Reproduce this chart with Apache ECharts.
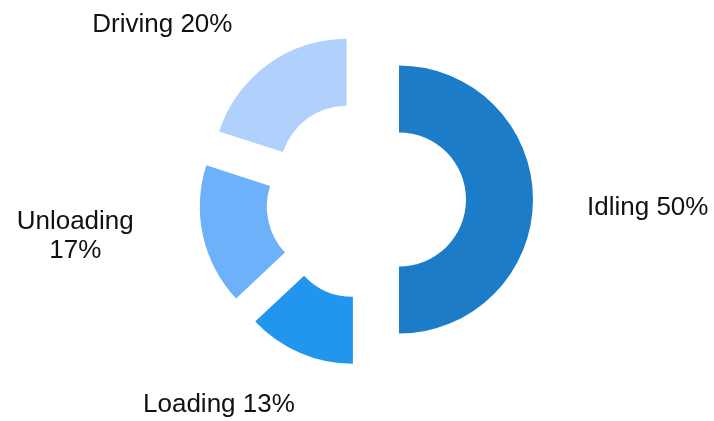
<!DOCTYPE html>
<html><head><meta charset="utf-8">
<script src="https://cdn.jsdelivr.net/npm/echarts@6/dist/echarts.min.js"></script>
<style>html,body{margin:0;padding:0;background:#fff}#c{width:714px;height:421px}</style>
</head><body><div id="c"></div>
<script>
const categories = ['Idling', 'Loading', 'Unloading', 'Driving'];
const values = [50, 13, 17, 20];
const colors = ['#1c7cc8', '#2295ef', '#6eb1fb', '#b0d1fc'];

const chart = echarts.init(document.getElementById('c'), null, {renderer: 'canvas'});
const data = categories.map((n, i) => {
  const item = {name: n, value: values[i], selected: true, itemStyle: {color: colors[i]}};
  if (n === 'Unloading') item.label = {formatter: '{b}\n{c}%'};
  return item;
});
function nudgeLabel(params) {
  const n = categories[params.dataIndex];
  if (n === 'Idling') return {dx: -1, dy: 8};
  if (n === 'Loading') return {dx: 20, dy: 6};
  if (n === 'Unloading') return {dx: -74, dy: -11, align: 'center'};
  if (n === 'Driving') return {dx: -1, dy: 1};
  return {};
}
chart.setOption({
  animation: false,
  series: [{
    type: 'pie',
    center: [366, 199.5],
    radius: [67, 134],
    startAngle: 90,
    clockwise: true,
    selectedMode: 'multiple',
    selectedOffset: 33,
    avoidLabelOverlap: false,
    emphasis: {disabled: true},
    label: {
      show: true, position: 'outside', formatter: '{b} {c}%',
      fontFamily: 'Liberation Sans, Arial, sans-serif', fontSize: 26, color: '#111',
      lineHeight: 29
    },
    labelLine: {show: false, length: 50, length2: 0},
    labelLayout: nudgeLabel,
    data: data
  }]
});
</script></body></html>
